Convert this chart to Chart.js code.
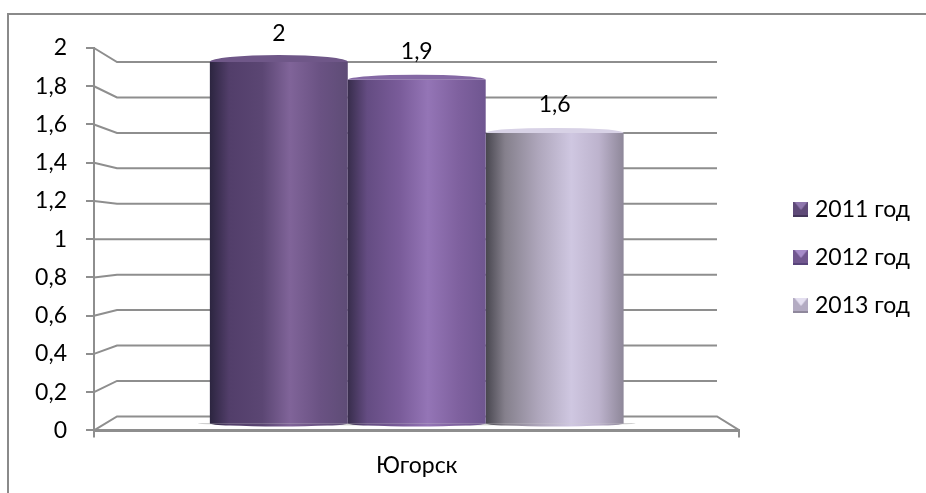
<!DOCTYPE html>
<html>
<head>
<meta charset="utf-8">
<style>
  html, body { margin: 0; padding: 0; background: #fff; }
  #wrap { width: 926px; height: 493px; position: relative; }
</style>
<script src="https://cdn.jsdelivr.net/npm/chart.js@4/dist/chart.umd.min.js"></script>
</head>
<body>
<div id="wrap"><canvas id="chart"></canvas></div>
<script>
const categories = ['Югорск'];
const seriesNames = ['2011 год', '2012 год', '2013 год'];
const values2011 = [2];
const values2012 = [1.9];
const values2013 = [1.6];
const valueLabels = ['2', '1,9', '1,6'];

const FONT = 'Lato, "Open Sans", sans-serif';
const LINE = '#8e8e8e';
const CAT_PCT = 0.641;
const DEPTH = 23;     // сдвиг задней стенки по x
const WALL_RIGHT = 717;

// [offset, color] цилиндр по горизонтали
const barStops = [
  [[0, '#2c2540'], [0.14, '#523e6a'], [0.38, '#5b4673'], [0.58, '#806499'], [0.8, '#6a5283'], [1, '#5e4c76']],
  [[0, '#382d4c'], [0.14, '#644c82'], [0.38, '#7a5c9a'], [0.58, '#9475b6'], [0.8, '#7f619f'], [1, '#6f5690']],
  [[0, '#48464f'], [0.14, '#85808c'], [0.38, '#aea6bb'], [0.62, '#cfc7e1'], [0.82, '#bdb3cd'], [1, '#8e8799']]
];
const capColors = ['#6f5788', '#8468a4', '#d8d2e6'];
// маркер легенды: верх, бока, низ
const markerColors = [
  ['#8f77ad', '#5f4a78', '#44365a'],
  ['#a68bc8', '#71578f', '#58447a'],
  ['#e4dff0', '#b3abc2', '#8f889c']
];

function barGradient(chart, i) {
  const xs = chart.scales.x;
  if (!xs || !isFinite(xs.left) || xs.right <= xs.left) return barStops[i][1][1];
  const group = (xs.right - xs.left) * CAT_PCT;
  const w = group / 3;
  const x0 = (xs.left + xs.right) / 2 - group / 2 + w * i;
  const g = chart.ctx.createLinearGradient(x0, 0, x0 + w, 0);
  barStops[i].forEach(s => g.addColorStop(s[0], s[1]));
  return g;
}

function makeMarker(i) {
  const S = 15;
  const c = document.createElement('canvas');
  c.width = c.height = S;
  const g = c.getContext('2d');
  const [top, side, bottom] = markerColors[i];
  g.fillStyle = side;
  g.fillRect(0, 0, S, S);
  g.fillStyle = top;
  g.beginPath(); g.moveTo(1, 0); g.lineTo(S - 1, 0); g.lineTo(S / 2, 8); g.fill();
  g.fillStyle = bottom;
  g.fillRect(0, S - 2, S, 2);
  return c;
}
const markers = seriesNames.map((n, i) => makeMarker(i));

const wallPlugin = {
  id: 'wall',
  beforeDatasetsDraw(chart) {
    const { ctx, scales } = chart;
    const y = scales.y, back = scales.yBack, x0 = scales.x.left, x1 = scales.x.right;
    ctx.save();
    ctx.strokeStyle = LINE;
    ctx.lineWidth = 2;
    y.ticks.forEach(t => {
      const yb = back.getPixelForValue(t.value);
      ctx.beginPath();
      ctx.moveTo(x0, y.getPixelForValue(t.value));
      ctx.lineTo(x0 + DEPTH, yb);
      ctx.lineTo(WALL_RIGHT, yb);
      if (t.value === 0) ctx.lineTo(x1, y.getPixelForValue(0));
      ctx.stroke();
    });
    // тень под цилиндрами
    const a = chart.getDatasetMeta(0).data[0], c = chart.getDatasetMeta(2).data[0];
    ctx.fillStyle = 'rgba(120,120,120,0.35)';
    ctx.beginPath();
    ctx.ellipse((a.x + c.x) / 2, a.base, (c.x - a.x) / 2 + c.width / 2 + 12, 2, 0, 0, Math.PI * 2);
    ctx.fill();
    ctx.restore();
  },
  afterDatasetsDraw(chart) {
    const { ctx } = chart;
    ctx.save();
    chart.data.datasets.forEach((ds, i) => {
      const el = chart.getDatasetMeta(i).data[0];
      const rx = el.width / 2;
      // низ цилиндра
      ctx.fillStyle = barGradient(chart, i);
      ctx.beginPath();
      ctx.ellipse(el.x, el.base, rx, 3, 0, 0, Math.PI);
      ctx.fill();
      // верх цилиндра
      ctx.beginPath();
      ctx.ellipse(el.x, el.y, rx, i === 0 ? 7 : 5, 0, Math.PI, 0);
      ctx.fillStyle = capColors[i];
      ctx.fill();
      // подпись значения
      ctx.fillStyle = '#000';
      ctx.font = '23px ' + FONT;
      ctx.textAlign = 'center';
      ctx.textBaseline = 'middle';
      ctx.fillText(valueLabels[i], el.x, el.y - 28);
    });
    ctx.restore();
  }
};

const framePlugin = {
  id: 'frame',
  beforeDraw(chart) {
    const { ctx } = chart;
    ctx.save();
    ctx.strokeStyle = '#8a8a8a';
    ctx.lineWidth = 2;
    ctx.beginPath();
    ctx.moveTo(8, 493);
    ctx.lineTo(8, 14);
    ctx.lineTo(926, 14);
    ctx.stroke();
    ctx.restore();
  },
  afterLayout(chart) {
    // легенда стоит выше центра области графика и правее
    const lg = chart.legend;
    lg.top -= 13;
    lg.bottom -= 13;
    lg.left += 34;
    lg.right += 34;
  }
};

new Chart(document.getElementById('chart'), {
  type: 'bar',
  data: {
    labels: categories,
    datasets: [
      { label: seriesNames[0], data: values2011, yAxisID: 'yBack', base: -0.04, backgroundColor: c => barGradient(c.chart, 0) },
      { label: seriesNames[1], data: values2012, yAxisID: 'yBack', base: -0.04, backgroundColor: c => barGradient(c.chart, 1) },
      { label: seriesNames[2], data: values2013, yAxisID: 'yBack', base: -0.04, backgroundColor: c => barGradient(c.chart, 2) }
    ]
  },
  options: {
    responsive: true,
    maintainAspectRatio: false,
    animation: false,
    categoryPercentage: CAT_PCT,
    barPercentage: 1,
    layout: { padding: { top: 48, left: 0, right: 40, bottom: 0 } },
    plugins: {
      tooltip: { enabled: false },
      legend: {
        position: 'right',
        labels: {
          font: { family: FONT, size: 23 },
          color: '#000',
          boxWidth: 15,
          boxHeight: 15,
          padding: 25,
          usePointStyle: true,
          pointStyleWidth: 5,
          generateLabels(chart) {
            return seriesNames.map((name, i) => ({
              text: name,
              datasetIndex: i,
              pointStyle: markers[i],
              fillStyle: markerColors[i][1],
              strokeStyle: markerColors[i][2],
              lineWidth: 0
            }));
          }
        }
      }
    },
    scales: {
      x: {
        grid: { drawOnChartArea: false, tickLength: 7, tickColor: LINE, lineWidth: 2 },
        border: { color: LINE, width: 3 },
        ticks: { color: '#000', font: { family: FONT, size: 23 }, padding: 14 }
      },
      y: {
        min: 0,
        max: 2,
        afterFit(scale) { scale.width = 94; },
        grid: { drawOnChartArea: false, tickLength: 8, tickColor: LINE, lineWidth: 2 },
        border: { color: LINE, width: 2 },
        ticks: {
          stepSize: 0.2,
          color: '#000',
          font: { family: FONT, size: 23 },
          padding: 19,
          callback: v => String(Math.round(v * 10) / 10).replace('.', ',')
        }
      },
      yBack: {
        display: false,
        min: -0.079,
        max: 2.079
      }
    }
  },
  plugins: [framePlugin, wallPlugin]
});
</script>
</body>
</html>
